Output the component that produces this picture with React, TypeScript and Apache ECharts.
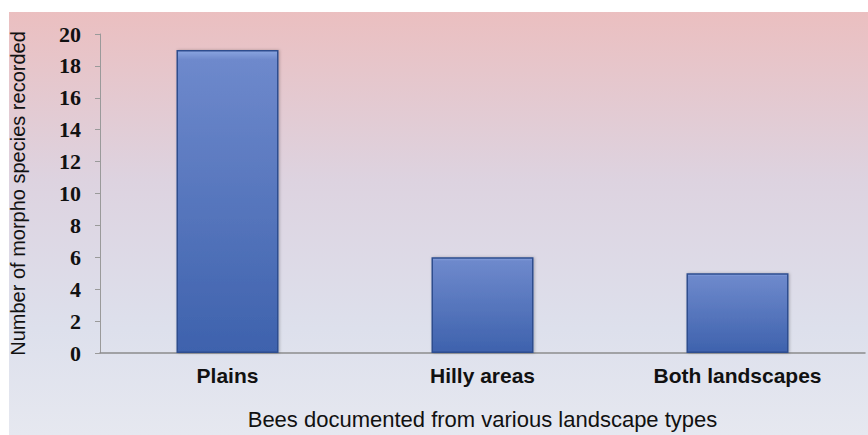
import React, { useEffect, useRef } from "react";
import * as echarts from "echarts";

const categories = ["Plains", "Hilly areas", "Both landscapes"];
const speciesCounts = [19, 6, 5];
const yTicks = [0, 2, 4, 6, 8, 10, 12, 14, 16, 18, 20];

export default function App() {
  const ref = useRef<HTMLDivElement>(null);
  useEffect(() => {
    document.body.style.margin = "0";
    const chart = echarts.init(ref.current!, null, { renderer: "svg" });
    chart.setOption({
      animation: false,
      backgroundColor: "#ffffff",
      graphic: [
        {
          type: "rect",
          z: -10,
          silent: true,
          shape: { x: 9, y: 12, width: 859, height: 423 },
          style: {
            fill: new echarts.graphic.LinearGradient(0, 0, 0, 1, [
              { offset: 0, color: "#ebbfc0" },
              { offset: 0.4, color: "#ddd3e0" },
              { offset: 0.75, color: "#dde0ec" },
              { offset: 1, color: "#e6e8f0" },
            ]),
          },
        },
      ],
      grid: { left: 100, right: 3, top: 34, bottom: 78 },
      xAxis: {
        type: "category",
        data: categories,
        name: "Bees documented from various landscape types",
        nameLocation: "middle",
        nameGap: 55,
        nameTextStyle: { fontFamily: "Liberation Sans", fontSize: 22, color: "#111" },
        axisLine: { lineStyle: { color: "#8c8c8c", width: 1.5 } },
        axisTick: { show: false },
        axisLabel: {
          fontFamily: "Liberation Sans",
          fontWeight: "bold",
          fontSize: 21,
          color: "#111",
          margin: 12,
        },
      },
      yAxis: {
        type: "value",
        min: 0,
        max: 20,
        interval: 2,
        name: "Number of morpho species recorded",
        nameLocation: "middle",
        nameGap: 72,
        nameTextStyle: { fontFamily: "Liberation Sans", fontSize: 20, color: "#111" },
        axisLine: { show: true, lineStyle: { color: "#9a9a9a", width: 1 } },
        axisTick: { show: true, length: 5, lineStyle: { color: "#9a9a9a" } },
        splitLine: { show: false },
        axisLabel: {
          fontFamily: "Liberation Serif",
          fontWeight: "bold",
          fontSize: 22,
          color: "#111",
          margin: 19,
          formatter: (v: number) => (yTicks.includes(v) ? String(v) : ""),
        },
      },
      series: [
        {
          type: "bar",
          data: speciesCounts,
          barWidth: "40%",
          itemStyle: {
            color: new echarts.graphic.LinearGradient(0, 0, 0, 1, [
              { offset: 0, color: "#8aa5e0" },
              { offset: 0.03, color: "#6e89cc" },
              { offset: 1, color: "#3e62ad" },
            ]),
            borderColor: "#2e4d8e",
            borderWidth: 1.5,
            shadowColor: "rgba(0,0,0,0.25)",
            shadowBlur: 3,
            shadowOffsetX: 1,
          },
        },
      ],
    });
    return () => chart.dispose();
  }, []);
  return <div ref={ref} style={{ width: 868, height: 435 }} />;
}
